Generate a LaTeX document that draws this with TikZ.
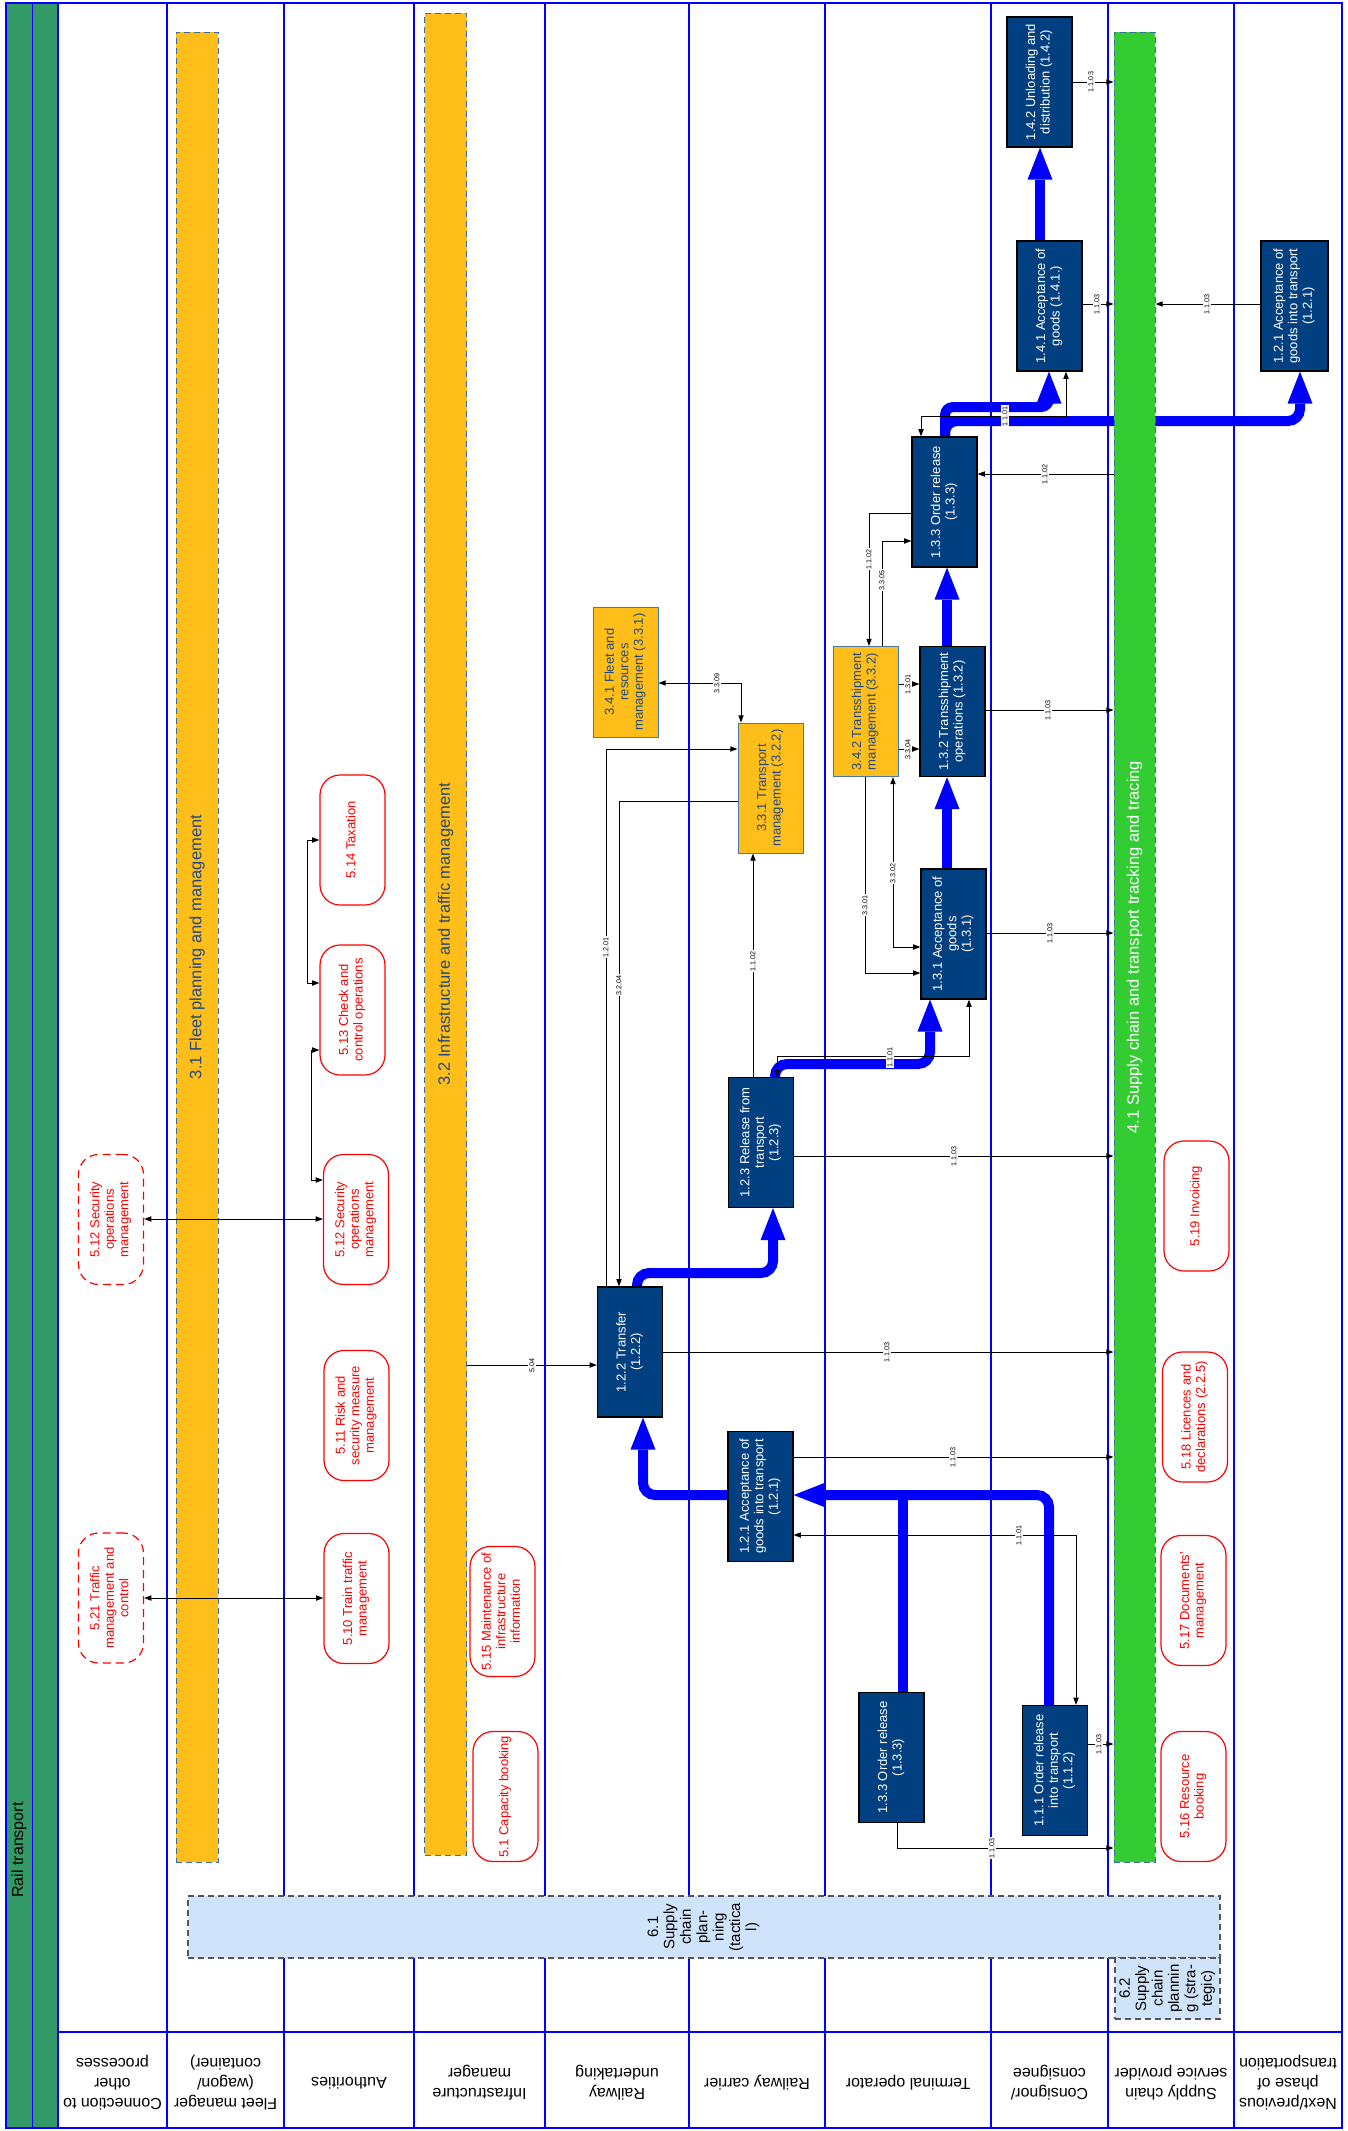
\documentclass[tikz,border=0pt]{standalone}
\usepackage{fontspec}
\setmainfont{Liberation Sans}
\usepackage{graphicx}
\usetikzlibrary{arrows.meta}

\definecolor{procblue}{RGB}{0,64,128}
\definecolor{laneblue}{RGB}{0,0,255}
\definecolor{flowblue}{RGB}{0,0,255}
\definecolor{barorange}{RGB}{255,190,26}
\definecolor{bargreen}{RGB}{51,204,51}
\definecolor{railgreen}{RGB}{51,153,102}
\definecolor{dashblue}{RGB}{59,110,158}
\definecolor{subedge}{RGB}{74,122,168}
\definecolor{navytext}{RGB}{31,73,125}
\definecolor{planfill}{RGB}{207,228,250}
\definecolor{planedge}{RGB}{85,85,85}

% rotated multi-line text (reads bottom to top)
\newcommand{\vt}[1]{\rotatebox{90}{\begin{tabular}{@{}c@{}}#1\end{tabular}}}
\newcommand{\barlabelfont}{\fontsize{8.25}{9}\selectfont}

\pgfdeclarelayer{lanes}
\pgfdeclarelayer{flowlayer}
\pgfdeclarelayer{bars}
\pgfsetlayers{lanes,flowlayer,bars,main}

\tikzset{
  proc/.style={draw=black, line width=0.6pt, fill=procblue, text=white,
    minimum width=32.5pt, minimum height=65pt, inner sep=0pt,
    font=\fontsize{6.5}{7.2}\selectfont},
  subproc/.style={proc, fill=barorange, draw=subedge, text=navytext, line width=0.5pt},
  fnbox/.style={draw=red, fill=white, text=red, rounded corners=10pt, line width=0.6pt,
    minimum width=32.5pt, minimum height=65pt, inner sep=0pt,
    font=\fontsize{6.5}{7.2}\selectfont},
  fnboxd/.style={fnbox, dash pattern=on 4pt off 2.5pt},
  actbar/.style={draw=dashblue, dash pattern=on 3pt off 2pt, line width=0.5pt, inner sep=0pt},
  planbox/.style={draw=planedge, fill=planfill, dash pattern=on 3pt off 2pt, line width=0.75pt,
    inner sep=0pt, font=\fontsize{7.5}{8.2}\selectfont},
  mainflow/.style={draw=flowblue, line width=5pt, rounded corners=6pt,
    -{Triangle[width=12.5pt,length=16pt,line width=0pt]}},
  link/.style={draw=black, line width=0.5pt},
  onetip/.style={-{Triangle[width=2.6pt,length=3.6pt]}},
  twotip/.style={{Triangle[width=2.6pt,length=3.6pt]}-{Triangle[width=2.6pt,length=3.6pt]}},
  linklab/.style={fill=white, inner sep=0.5pt, rotate=90, font=\fontsize{3.6}{4}\selectfont},
  lanelab/.style={rotate=180, align=center, font=\fontsize{8}{10}\selectfont},
}

\begin{document}
\begin{tikzpicture}[x=0.5pt,y=-0.5pt]
\useasboundingbox (0,0) rectangle (1348,2131);

% ---------- lanes ----------
\begin{pgfonlayer}{lanes}
  \fill[white] (0,0) rectangle (1348,2131);
  \fill[railgreen] (6,3) rectangle (58,2128);
  \foreach \x in {32.5,58,167,284,414,545,689,825,991,1108,1234}
    \draw[laneblue, line width=0.75pt] (\x,3) -- (\x,2128);
  \draw[laneblue, line width=1pt] (58,2032) -- (1342,2032);
  \draw[laneblue, line width=1pt] (6,3) rectangle (1342,2128);
\end{pgfonlayer}

\node[rotate=90, anchor=west, inner sep=0pt, font=\fontsize{8}{9}\selectfont] (railt) at (19,1898) {Rail transport};

% ---------- activity bars ----------
\begin{pgfonlayer}{bars}
  \node[actbar, fill=barorange, minimum width=21pt, minimum height=915pt] (bar31) at (197,947)
    {\rotatebox{90}{\barlabelfont\color{navytext}3.1 Fleet planning and management}};
  \node[actbar, fill=barorange, minimum width=21pt, minimum height=921pt] (bar32) at (445.5,934)
    {\rotatebox{90}{\barlabelfont\color{navytext}3.2 Infrastructure and traffic management}};
  \node[actbar, fill=bargreen, minimum width=20.5pt, minimum height=915pt] (g41) at (1134.5,947)
    {\rotatebox{90}{\barlabelfont\color{white}4.1 Supply chain and transport tracking and tracing}};
\end{pgfonlayer}

% ---------- process boxes ----------
\node[proc] (b142) at (1039.5,82) {\vt{1.4.2 Unloading and\\distribution (1.4.2)}};
\node[proc] (b141) at (1049.5,306) {\vt{1.4.1 Acceptance of\\goods (1.4.1.)}};
\node[proc, minimum width=33.5pt] (b121r) at (1294.5,306) {\vt{1.2.1 Acceptance of\\goods into transport\\(1.2.1)}};
\node[proc] (b133t) at (944.5,502) {\vt{1.3.3 Order release\\(1.3.3)}};
\node[proc] (b132) at (952.5,711.5) {\vt{1.3.2 Transshipment\\operations (1.3.2)}};
\node[subproc] (o342) at (865.5,711.5) {\vt{3.4.2 Transshipment\\management (3.3.2)}};
\node[subproc] (o341) at (625.5,672) {\vt{3.4.1 Fleet and\\resources\\management (3.3.1)}};
\node[subproc] (o331) at (770.5,788) {\vt{3.3.1 Transport\\management (3.2.2)}};
\node[proc] (b131) at (953.5,934) {\vt{1.3.1 Acceptance of\\goods\\(1.3.1)}};
\node[proc] (b123) at (761,1142.5) {\vt{1.2.3 Release from\\transport\\(1.2.3)}};
\node[proc] (b122) at (630,1352) {\vt{1.2.2 Transfer\\(1.2.2)}};
\node[proc] (b121) at (760.5,1496.5) {\vt{1.2.1 Acceptance of\\goods into transport\\(1.2.1)}};
\node[proc] (b133b) at (891.5,1757.5) {\vt{1.3.3 Order release\\(1.3.3)}};
\node[proc] (b111) at (1055,1770.5) {\vt{1.1.1 Order release\\into transport\\(1.1.2)}};

% ---------- related functions ----------
\node[fnbox] (r514) at (352.5,840) {\vt{5.14 Taxation}};
\node[fnbox] (r513) at (352.5,1010) {\vt{5.13 Check and\\control operations}};
\node[fnbox] (r512) at (356,1219.5) {\vt{5.12 Security\\operations\\management}};
\node[fnboxd] (r512d) at (111,1219.5) {\vt{5.12 Security\\operations\\management}};
\node[fnbox] (r511) at (356.5,1415.5) {\vt{5.11 Risk and\\security measure\\management}};
\node[fnbox] (r510) at (356.5,1598.5) {\vt{5.10 Train traffic\\management}};
\node[fnboxd] (r521d) at (111,1598) {\vt{5.21 Traffic\\management and\\control}};
\node[fnbox] (r515) at (502.5,1611.5) {\vt{5.15 Maintenance of\\infrastructure\\information}};
\node[fnbox] (r51) at (505.5,1796.5) {\vt{5.1 Capacity booking}};
\node[fnbox] (r519) at (1196.5,1206) {\vt{5.19 Invoicing}};
\node[fnbox] (r518) at (1195,1417) {\vt{5.18 Licences and\\declarations (2.2.5)}};
\node[fnbox] (r517) at (1193.5,1600.5) {\vt{5.17 Documents'\\management}};
\node[fnbox] (r516) at (1193.5,1796.5) {\vt{5.16 Resource\\booking}};

% ---------- main process flow ----------
\begin{pgfonlayer}{flowlayer}
  \draw[mainflow] (b111.north -| 1049,0) -- (1049,1495) -- (b121.east |- 0,1495);
  \draw[mainflow, -] (b133b.north -| 903,0) -- (903,1495);
  \draw[mainflow] (b121.west |- 0,1495) -- (643,1495) -- (b122.south -| 643,0);
  \draw[mainflow] (b122.north -| 637,0) -- (637,1273) -- (773,1273) -- (b123.south -| 773,0);
  \draw[mainflow] (b123.north -| 775,0) -- (775,1064) -- (930,1064) -- (b131.south -| 930,0);
  \draw[mainflow] (b131.north -| 947,0) -- (b132.south -| 947,0);
  \draw[mainflow] (b132.north -| 947,0) -- (b133t.south -| 947,0);
  \draw[mainflow, rounded corners=4pt] (b133t.north -| 945,0) -- (945,407) -- (1049,407) -- (b141.south -| 1049,0);
  \draw[mainflow] (b133t.north -| 945,0) -- (945,421) -- (1300,421) -- (b121r.south -| 1300,0);
  \draw[mainflow] (b141.north -| 1040,0) -- (b142.south -| 1040,0);
\end{pgfonlayer}

% ---------- information links ----------
\draw[link, onetip] (b142.east |- 0,82) -- (g41.west |- 0,82);
\draw[link, onetip] (b141.east |- 0,304) -- (g41.west |- 0,304);
\draw[link, onetip] (b121r.west |- 0,304) -- (g41.east |- 0,304);
\draw[link, twotip] (b133t.north -| 921,0) -- (921,416) -- (1066,416) -- (b141.south -| 1066,0);
\draw[link, onetip] (g41.west |- 0,474) -- (b133t.east |- 0,474);
\draw[link, onetip] (b133t.west |- 0,513) -- (869,513) -- (o342.north -| 869,0);
\draw[link, onetip] (o342.north -| 882,0) -- (882,541) -- (b133t.west |- 0,541);
\draw[link, twotip] (o341.east |- 0,683) -- (741,683) -- (o331.north -| 741,0);
\draw[link, onetip] (o342.east |- 0,684) -- (b132.west |- 0,684);
\draw[link, onetip] (o342.east |- 0,749) -- (b132.west |- 0,749);
\draw[link, onetip] (b132.east |- 0,710) -- (g41.west |- 0,710);
\draw[link, twotip] (b131.west |- 0,947) -- (893,947) -- (o342.south -| 893,0);
\draw[link, onetip] (o342.south -| 865,0) -- (865,973) -- (b131.west |- 0,973);
\draw[link, onetip] (b131.east |- 0,933) -- (g41.west |- 0,933);
\draw[link, onetip] (b122.north -| 606,0) -- (606,749) -- (o331.west |- 0,749);
\draw[link, onetip] (o331.west |- 0,801) -- (619,801) -- (b122.north -| 619,0);
\draw[link, onetip] (b123.north -| 753,0) -- (o331.south -| 753,0);
\draw[link, twotip] (b123.north -| 777,0) -- (777,1056) -- (969,1056) -- (b131.south -| 969,0);
\draw[link, onetip] (b123.east |- 0,1156) -- (g41.west |- 0,1156);
\draw[link, onetip] (bar32.east |- 0,1365) -- (b122.west |- 0,1365);
\draw[link, onetip] (b122.east |- 0,1352) -- (g41.west |- 0,1352);
\draw[link, onetip] (b121.east |- 0,1457) -- (g41.west |- 0,1457);
\draw[link, twotip] (b121.east |- 0,1535) -- (1076,1535) -- (b111.north -| 1076,0);
\draw[link, onetip] (b111.east |- 0,1744) -- (g41.west |- 0,1744);
\draw[link, onetip] (b133b.south -| 897,0) -- (897,1848) -- (g41.west |- 0,1848);
\draw[link, twotip] (r512d.east |- 0,1219) -- (r512.west |- 0,1219);
\draw[link, twotip] (r521d.east |- 0,1598) -- (r510.west |- 0,1598);
\draw[link, twotip] (r512.west |- 0,1180) -- (311,1180) -- (311,1050) -- (r513.west |- 0,1050);
\draw[link, twotip] (r513.west |- 0,983) -- (307,983) -- (307,840) -- (r514.west |- 0,840);

% ---------- link labels ----------
\node[linklab] (t01) at (1091,82) {1.1.03};
\node[linklab] (t02) at (1097,304) {1.1.03};
\node[linklab] (t03) at (1207,304) {1.1.03};
\node[linklab] (t04) at (1005,416) {1.1.01};
\node[linklab] (t05) at (1045,474) {1.1.02};
\node[linklab] (t06) at (869,559) {1.1.02};
\node[linklab] (t07) at (882,580) {3.3.05};
\node[linklab] (t08) at (717,683) {3.3.09};
\node[linklab] (t09) at (908,684) {1.3.01};
\node[linklab] (t10) at (908,749) {3.3.04};
\node[linklab] (t11) at (1048,710) {1.1.03};
\node[linklab] (t12) at (893,873) {3.3.02};
\node[linklab] (t13) at (865,905) {3.3.01};
\node[linklab] (t14) at (1050,933) {1.1.03};
\node[linklab] (t15) at (606,947) {1.2.01};
\node[linklab] (t16) at (753,961) {1.1.02};
\node[linklab] (t17) at (619,985) {3.2.04};
\node[linklab] (t18) at (890,1057) {1.1.01};
\node[linklab] (t19) at (954,1156) {1.1.03};
\node[linklab] (t20) at (887,1352) {1.1.03};
\node[linklab] (t21) at (532,1365) {5.04};
\node[linklab] (t22) at (953,1457) {1.1.03};
\node[linklab] (t23) at (1019,1535) {1.1.01};
\node[linklab] (t24) at (1099,1744) {1.1.03};
\node[linklab] (t25) at (992,1848) {1.1.03};

% ---------- planning boxes ----------
\node[planbox, minimum width=516pt, minimum height=31pt] (p61) at (704,1927)
  {\vt{6.1\\Supply\\chain\\plan-\\ning\\(tactica\\l)}};
\node[planbox, minimum width=52.5pt, minimum height=30.5pt] (p62) at (1167.5,1988.5)
  {\vt{6.2\\Supply\\chain\\plannin\\g (stra-\\tegic)}};

% ---------- lane headers ----------
\node[lanelab] (h01) at (112.5,2083) {Connection to\\other\\processes};
\node[lanelab] (h02) at (225.5,2083) {Fleet manager\\(wagon/\\container)};
\node[lanelab] (h03) at (349,2083) {Authorities};
\node[lanelab] (h04) at (479.5,2083) {Infrastructure\\manager};
\node[lanelab] (h05) at (617,2083) {Railway\\undertaking};
\node[lanelab] (h06) at (757,2083) {Railway carrier};
\node[lanelab] (h07) at (908,2083) {Terminal operator};
\node[lanelab] (h08) at (1049.5,2083) {Consignor/\\consignee};
\node[lanelab] (h09) at (1171,2083) {Supply chain\\service provider};
\node[lanelab] (h10) at (1288,2083) {Next/previous\\phase of\\transportation};
\end{tikzpicture}
\end{document}
